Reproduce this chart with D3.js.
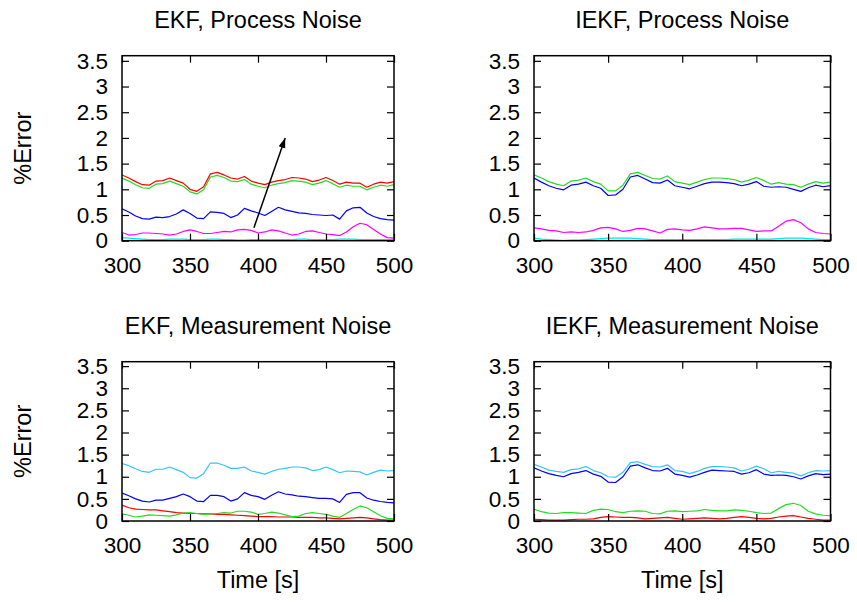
<!DOCTYPE html>
<html><head><meta charset="utf-8">
<script src="https://cdn.jsdelivr.net/npm/d3@7"></script>
<style>
body{margin:0;background:#fff}
text{font-family:"Liberation Sans",Arial,Helvetica,sans-serif;fill:#000}
</style>
</head><body>
<svg id="chart" width="857" height="602"></svg>
<script>
// ---------- data ----------
const time = [300,305,310,315,320,325,330,335,340,345,350,355,360,365,370,375,380,385,390,395,400,
              405,410,415,420,425,430,435,440,445,450,455,460,465,470,475,480,485,490,495,500];
const xTicks = [300,350,400,450,500];
const yTicks = [0,0.5,1,1.5,2,2.5,3,3.5];
const titles = ["EKF, Process Noise","IEKF, Process Noise","EKF, Measurement Noise","IEKF, Measurement Noise"];
const yLabel = "%Error";
const xLabel = "Time [s]";

// EKF, Process Noise
const ekfPN_red =   [1.28,1.22,1.15,1.09,1.08,1.16,1.17,1.22,1.17,1.12,1.00,0.96,1.05,1.30,1.33,1.28,1.22,1.20,1.25,1.16,1.12,1.09,1.14,1.17,1.19,1.23,1.22,1.20,1.15,1.18,1.23,1.17,1.10,1.14,1.12,1.12,1.04,1.10,1.14,1.12,1.15];
const ekfPN_green = [1.22,1.16,1.09,1.03,1.02,1.10,1.11,1.16,1.11,1.06,0.95,0.91,0.99,1.24,1.27,1.23,1.16,1.15,1.19,1.10,1.06,1.03,1.08,1.11,1.13,1.17,1.16,1.14,1.09,1.12,1.17,1.11,1.04,1.08,1.06,1.06,0.99,1.04,1.08,1.06,1.09];
const ekfPN_blue =  [0.62,0.56,0.48,0.43,0.42,0.46,0.45,0.47,0.52,0.60,0.53,0.44,0.43,0.56,0.55,0.53,0.45,0.50,0.63,0.58,0.54,0.49,0.57,0.65,0.60,0.57,0.54,0.53,0.51,0.50,0.49,0.50,0.42,0.58,0.64,0.65,0.54,0.47,0.43,0.41,0.40];
const ekfPN_magenta=[0.16,0.11,0.12,0.15,0.15,0.14,0.13,0.11,0.13,0.18,0.21,0.18,0.14,0.14,0.16,0.18,0.17,0.21,0.22,0.20,0.15,0.17,0.21,0.19,0.15,0.11,0.13,0.18,0.19,0.16,0.13,0.12,0.10,0.17,0.27,0.34,0.31,0.22,0.13,0.06,0.05];
const ekfPN_cyan =  [0.06,0.05,0.04,0.03,0.02,0.02,0.02,0.03,0.03,0.03,0.02,0.02,0.02,0.03,0.03,0.02,0.02,0.01,0.01,0.02,0.02,0.02,0.02,0.02,0.02,0.02,0.03,0.03,0.02,0.02,0.02,0.02,0.03,0.03,0.03,0.02,0.02,0.02,0.02,0.02,0.02];

// IEKF, Process Noise
const iekfPN_green =  [1.28,1.22,1.15,1.10,1.07,1.16,1.18,1.22,1.15,1.10,0.97,0.97,1.08,1.30,1.33,1.27,1.21,1.20,1.26,1.15,1.12,1.09,1.14,1.19,1.22,1.22,1.21,1.19,1.14,1.18,1.23,1.17,1.10,1.13,1.10,1.09,1.04,1.10,1.15,1.12,1.14];
const iekfPN_blue =   [1.22,1.14,1.07,1.02,0.99,1.08,1.10,1.14,1.07,1.02,0.88,0.89,1.00,1.24,1.27,1.20,1.13,1.12,1.18,1.07,1.04,1.01,1.06,1.11,1.14,1.14,1.13,1.11,1.07,1.10,1.15,1.06,1.04,1.05,1.04,1.00,0.96,1.03,1.08,1.05,1.07];
const iekfPN_magenta= [0.25,0.23,0.20,0.19,0.16,0.17,0.16,0.17,0.20,0.25,0.26,0.23,0.18,0.20,0.24,0.23,0.19,0.15,0.22,0.23,0.21,0.20,0.23,0.27,0.25,0.23,0.23,0.24,0.24,0.21,0.18,0.19,0.19,0.28,0.38,0.41,0.35,0.23,0.16,0.14,0.13];
const iekfPN_cyan =   [0.05,0.03,0.02,0.01,0.00,0.01,0.01,0.02,0.03,0.04,0.05,0.05,0.05,0.05,0.04,0.03,0.02,0.02,0.02,0.02,0.02,0.02,0.02,0.02,0.02,0.02,0.02,0.03,0.03,0.03,0.03,0.03,0.03,0.04,0.05,0.05,0.05,0.04,0.03,0.02,0.02];

// EKF, Measurement Noise
const ekfMN_sky =   [1.30,1.25,1.18,1.12,1.10,1.17,1.17,1.22,1.16,1.10,0.98,0.97,1.07,1.31,1.31,1.26,1.19,1.19,1.22,1.13,1.10,1.06,1.12,1.17,1.19,1.22,1.22,1.20,1.14,1.16,1.22,1.16,1.09,1.13,1.12,1.11,1.04,1.10,1.15,1.13,1.14];
const ekfMN_blue =  [0.63,0.57,0.50,0.45,0.43,0.47,0.47,0.51,0.55,0.61,0.55,0.45,0.44,0.58,0.58,0.55,0.45,0.50,0.64,0.58,0.55,0.49,0.58,0.66,0.61,0.59,0.56,0.55,0.53,0.51,0.51,0.50,0.42,0.60,0.64,0.64,0.52,0.47,0.44,0.42,0.41];
const ekfMN_red =   [0.36,0.30,0.27,0.26,0.25,0.25,0.23,0.21,0.19,0.18,0.17,0.17,0.16,0.16,0.15,0.15,0.14,0.13,0.12,0.11,0.10,0.10,0.10,0.09,0.09,0.09,0.08,0.08,0.08,0.07,0.07,0.06,0.05,0.06,0.07,0.08,0.07,0.05,0.03,0.02,0.02];
const ekfMN_green = [0.16,0.13,0.09,0.11,0.14,0.13,0.12,0.11,0.14,0.18,0.19,0.17,0.15,0.16,0.17,0.19,0.18,0.22,0.22,0.20,0.15,0.17,0.20,0.18,0.14,0.10,0.11,0.17,0.19,0.17,0.15,0.11,0.08,0.17,0.26,0.34,0.30,0.21,0.12,0.06,0.05];

// IEKF, Measurement Noise
const iekfMN_sky =  [1.28,1.22,1.15,1.12,1.10,1.16,1.18,1.23,1.14,1.09,1.00,0.99,1.10,1.32,1.34,1.28,1.23,1.22,1.27,1.14,1.12,1.07,1.12,1.19,1.23,1.23,1.22,1.20,1.13,1.17,1.24,1.18,1.09,1.12,1.10,1.08,1.02,1.09,1.14,1.13,1.14];
const iekfMN_blue = [1.20,1.13,1.07,1.03,1.00,1.07,1.10,1.14,1.06,1.01,0.88,0.87,1.00,1.24,1.27,1.20,1.14,1.13,1.19,1.06,1.03,0.99,1.04,1.10,1.15,1.14,1.13,1.12,1.06,1.09,1.16,1.06,1.03,1.04,1.03,1.00,0.95,1.02,1.07,1.05,1.06];
const iekfMN_green =[0.27,0.21,0.18,0.17,0.19,0.19,0.18,0.17,0.24,0.27,0.26,0.21,0.19,0.22,0.23,0.22,0.17,0.16,0.22,0.23,0.21,0.22,0.23,0.26,0.24,0.23,0.23,0.25,0.24,0.22,0.19,0.17,0.18,0.28,0.37,0.40,0.35,0.22,0.16,0.13,0.12];
const iekfMN_red =  [0.04,0.03,0.02,0.02,0.02,0.03,0.04,0.04,0.05,0.08,0.10,0.09,0.08,0.08,0.07,0.05,0.06,0.07,0.08,0.06,0.04,0.05,0.06,0.07,0.06,0.05,0.06,0.08,0.10,0.08,0.06,0.05,0.06,0.09,0.11,0.12,0.09,0.06,0.04,0.02,0.02];

// arrow annotation in first panel (data coords)
const arrowFrom = [397, 0.25];
const arrowTo = [420, 2.0];

// ---------- colours ----------
const C = {red:"#ff0000", green:"#22dd22", blue:"#0000ff", magenta:"#ff00ff", cyan:"#00e8e8", sky:"#33c4ff"};

const panels = [
  {title:titles[0], box:{l:122,r:394,t:55.7,b:240.7}, ylab:true, xlab:false,
   series:[[ekfPN_cyan,C.cyan],[ekfPN_magenta,C.magenta],[ekfPN_blue,C.blue],[ekfPN_green,C.green],[ekfPN_red,C.red]], arrow:true},
  {title:titles[1], box:{l:534,r:830.5,t:55.7,b:240.7}, ylab:false, xlab:false,
   series:[[iekfPN_cyan,C.cyan],[iekfPN_magenta,C.magenta],[iekfPN_blue,C.blue],[iekfPN_green,C.green]]},
  {title:titles[2], box:{l:122,r:394,t:361.7,b:521}, ylab:true, xlab:true,
   series:[[ekfMN_red,C.red],[ekfMN_green,C.green],[ekfMN_blue,C.blue],[ekfMN_sky,C.sky]]},
  {title:titles[3], box:{l:534,r:830.5,t:361.7,b:521}, ylab:false, xlab:true,
   series:[[iekfMN_red,C.red],[iekfMN_green,C.green],[iekfMN_blue,C.blue],[iekfMN_sky,C.sky]]}
];

const svg = d3.select("#chart");
svg.append("defs").append("marker")
  .attr("id","ah").attr("viewBox","0 0 10 10").attr("refX",10).attr("refY",5)
  .attr("markerWidth",10).attr("markerHeight",10).attr("markerUnits","userSpaceOnUse")
  .attr("orient","auto")
  .append("path").attr("d","M0,1.5 L10,5 L0,8.5 Z").attr("fill","#000");

const FS = 22.5;      // tick labels
const FT = 23.5;      // titles and axis labels
const tickLen = 7;

panels.forEach(p => {
  const b = p.box;
  const x = d3.scaleLinear().domain([300,500]).range([b.l,b.r]);
  const y = d3.scaleLinear().domain([0,3.6]).range([b.b,b.t]);
  const g = svg.append("g");

  const cid = "clip" + b.l + "_" + Math.round(b.t);
  svg.select("defs").append("clipPath").attr("id",cid)
    .append("rect").attr("x",b.l).attr("y",b.t).attr("width",b.r-b.l).attr("height",b.b-b.t);

  const line = d3.line().x((d,i)=>x(time[i])).y(d=>y(d));
  const lg = g.append("g").attr("clip-path",`url(#${cid})`);
  p.series.forEach(([vals,col]) => {
    lg.append("path").datum(vals).attr("d",line)
      .attr("fill","none").attr("stroke",col).attr("stroke-width",1.2).attr("stroke-linejoin","round");
  });

  const axL = g.append("g").attr("transform",`translate(${b.l},0)`)
    .call(d3.axisLeft(y).tickValues(yTicks).tickSize(-tickLen).tickPadding(14).tickFormat(d=>String(d)));
  const axR = g.append("g").attr("transform",`translate(${b.r},0)`)
    .call(d3.axisRight(y).tickValues(yTicks).tickSize(-tickLen).tickFormat(""));
  const axB = g.append("g").attr("transform",`translate(0,${b.b})`)
    .call(d3.axisBottom(x).tickValues(xTicks).tickSize(-tickLen).tickPadding(16).tickFormat(d=>String(d)));
  const axT = g.append("g").attr("transform",`translate(0,${b.t})`)
    .call(d3.axisTop(x).tickValues(xTicks).tickSize(-tickLen).tickFormat(""));
  [axL,axR,axB,axT].forEach(a => {
    a.select(".domain").remove();
    a.selectAll(".tick line").attr("stroke","#000").attr("stroke-width",1.2);
    a.selectAll("text").attr("font-size",FS).attr("fill","#000")
      .style("font-family",'"Liberation Sans",Arial,Helvetica,sans-serif');
  });
  axB.selectAll("text").attr("dy","0.71em");

  g.append("rect").attr("x",b.l).attr("y",b.t).attr("width",b.r-b.l).attr("height",b.b-b.t)
    .attr("fill","none").attr("stroke","#000").attr("stroke-width",1.5);

  g.append("text").attr("x",(b.l+b.r)/2).attr("y",b.t-28).attr("text-anchor","middle")
    .attr("font-size",FT).text(p.title);

  if (p.ylab) {
    g.append("text").attr("transform",`translate(31,${(b.t+b.b)/2}) rotate(-90)`)
      .attr("text-anchor","middle").attr("font-size",FT).text(yLabel);
  }
  if (p.xlab) {
    g.append("text").attr("x",(b.l+b.r)/2).attr("y",b.b+67).attr("text-anchor","middle")
      .attr("font-size",FT).text(xLabel);
  }
  if (p.arrow) {
    g.append("line").attr("x1",x(arrowFrom[0])).attr("y1",y(arrowFrom[1]))
      .attr("x2",x(arrowTo[0])).attr("y2",y(arrowTo[1]))
      .attr("stroke","#000").attr("stroke-width",1.5).attr("marker-end","url(#ah)");
  }
});
</script>
</body></html>
